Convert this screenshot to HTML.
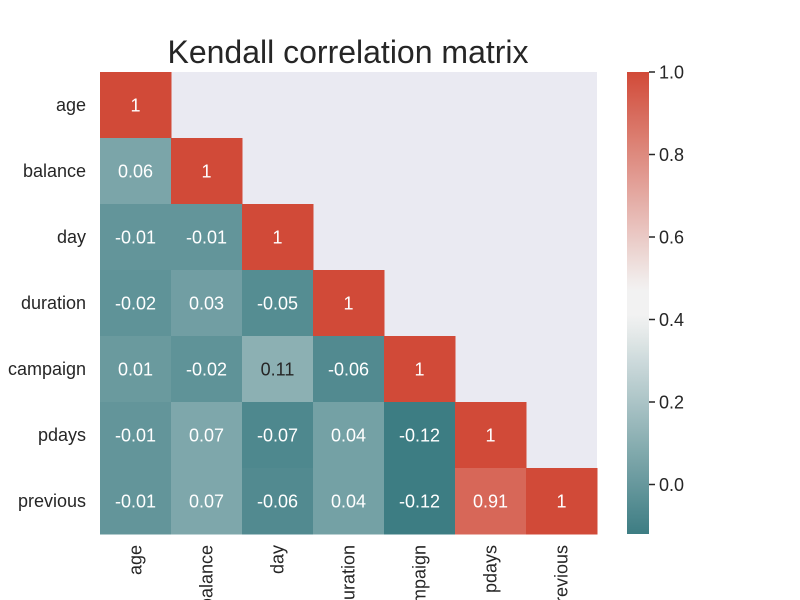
<!DOCTYPE html>
<html><head><meta charset="utf-8"><style>body{margin:0;background:#fff}svg{display:block;font-family:"Liberation Sans",Arial,sans-serif}</style></head>
<body>
<svg id="chart" width="800" height="600" viewBox="0 0 800 600">
<defs><linearGradient id="cbg" x1="0" y1="1" x2="0" y2="0"></linearGradient></defs>
<g id="g"></g>
</svg>
<script>
const labels = ["age","balance","day","duration","campaign","pdays","previous"];
const row0 = [1];
const row1 = [0.06,1];
const row2 = [-0.01,-0.01,1];
const row3 = [-0.02,0.03,-0.05,1];
const row4 = [0.01,-0.02,0.11,-0.06,1];
const row5 = [-0.01,0.07,-0.07,0.04,-0.12,1];
const row6 = [-0.01,0.07,-0.06,0.04,-0.12,0.91,1];
const rows = [row0,row1,row2,row3,row4,row5,row6];
const cbTicks = [0.0,0.2,0.4,0.6,0.8,1.0];
const vmin = -0.12, vmax = 1.0;

const NS="http://www.w3.org/2000/svg";
const g=document.getElementById('g');
const L=100,T=72,R=597,B=534,n=labels.length;
const cw=(R-L)/n, ch=(B-T)/n;
const xPos=i=>L+i*cw, yPos=i=>T+i*ch;
function mk(t,a,p){const e=document.createElementNS(NS,t);for(const k in a)e.setAttribute(k,a[k]);(p||g).appendChild(e);return e;}
const lo=[61,125,131], mid=[242,242,242], hi=[209,74,56];
function color(v){
  let t=(v-vmin)/(vmax-vmin); t=Math.max(0,Math.min(1,t));
  let c;
  if(t<0.47){const s=Math.min(1,t/0.47);c=lo.map((x,k)=>x+(mid[k]-x)*s);}
  else if(t<0.53){c=mid;}
  else{const s=(t-0.53)/0.47;c=mid.map((x,k)=>x+(hi[k]-x)*s);}
  return `rgb(${c.map(Math.round).join(',')})`;
}
function textColor(v){return (v>0.09&&v<0.8)?'#262626':'#ffffff';}

let bg=mk('rect',{x:L,y:T,width:R-L,height:B-T,fill:'#eaeaf2'});



let title=mk('text',{x:348,y:63,'text-anchor':'middle','font-size':32,fill:'#262626'});
title.textContent='Kendall correlation matrix';



rows.forEach((r,i)=>{
  r.forEach((v,j)=>{
    const c=mk('rect',{x:xPos(j),y:yPos(i),width:cw+0.5,height:ch+0.5,fill:color(v)});
    
    
    const t=mk('text',{x:xPos(j)+cw/2,y:yPos(i)+ch/2+6.5,'text-anchor':'middle','font-size':18,fill:textColor(v)});
    t.textContent=String(v);
    
    
  });
});
labels.forEach((lab,i)=>{
  const yl=mk('text',{x:86,y:yPos(i)+ch/2+6,'text-anchor':'end','font-size':18,fill:'#262626'});
  yl.textContent=lab;
  
  
  const cx=xPos(i)+cw/2+6;
  const xl=mk('text',{x:cx,y:545,'text-anchor':'end','font-size':18,fill:'#262626',transform:`rotate(-90 ${cx} 545)`});
  xl.textContent=lab;
  
  
});
const grad=document.getElementById('cbg');
for(let k=0;k<=40;k++){const v=vmin+(vmax-vmin)*k/40;mk('stop',{offset:(k/40),'stop-color':color(v)},grad);}
const cbL=627,cbW=22;
const cy=v=>B-(v-vmin)/(vmax-vmin)*(B-T);
const cb=mk('rect',{x:cbL,y:T,width:cbW,height:B-T,fill:'url(#cbg)'});


cbTicks.forEach(v=>{
  const tk=mk('line',{x1:cbL+cbW,x2:cbL+cbW+6,y1:cy(v),y2:cy(v),stroke:'#262626','stroke-width':1.5});
  
  
  const tl=mk('text',{x:cbL+cbW+10,y:cy(v)+6.5,'font-size':18,fill:'#262626'});
  tl.textContent=v.toFixed(1);
  
  
});
</script>
</body></html>
